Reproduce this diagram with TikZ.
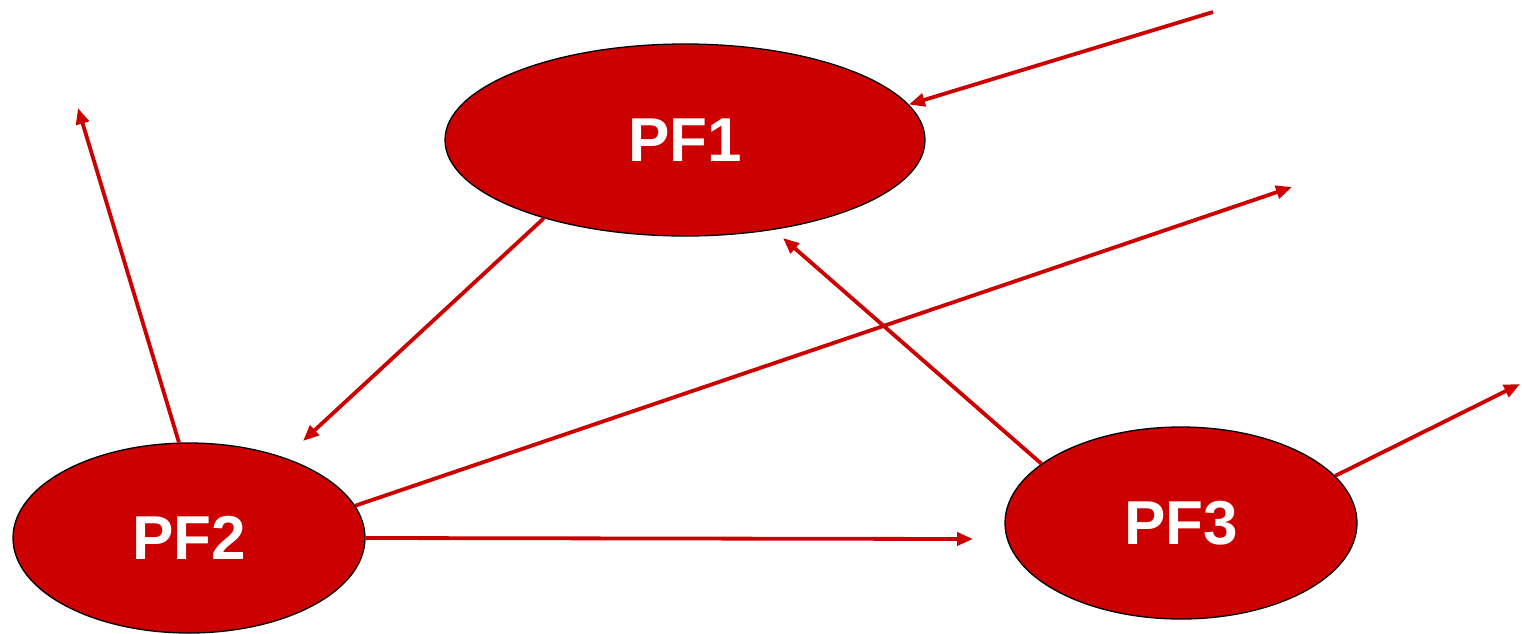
\documentclass[tikz,border=0pt]{standalone}
\usepackage{fontspec}
\setmainfont{Liberation Sans}
\usetikzlibrary{arrows.meta,shapes.geometric}
\definecolor{pfred}{HTML}{CC0000}
\tikzset{
  pf/.style={ellipse, draw=black, line width=1.3pt, fill=pfred, text=white, inner sep=0pt,
    font=\bfseries\fontsize{62}{62}\selectfont},
  conn/.style={draw=pfred, line width=3.8pt, -{Triangle[length=16pt,width=13pt]}}
}
\begin{document}
\begin{tikzpicture}[x=1pt,y=-1pt]
\useasboundingbox (0,0) rectangle (1522,633);
\node[pf, minimum width=480pt, minimum height=192pt] (PF1) at (685,140) {PF1};
\node[pf, minimum width=352pt, minimum height=190pt] (PF2) at (189,538) {PF2};
\node[pf, minimum width=352pt, minimum height=192pt] (PF3) at (1181,523) {PF3};
\coordinate (s1) at (1213,12);
\coordinate (e2) at (78,108);
\coordinate (e3) at (303,441);
\coordinate (e4) at (1292,187);
\coordinate (e5) at (783,238);
\coordinate (e6) at (973,539);
\coordinate (e7) at (1520,384);
\draw[conn] (s1) -- (PF1.9);
\draw[conn] (PF2.96) -- (e2);
\draw[conn] (PF1.209.5) -- (e3);
\draw[conn] (PF2.11.3) -- (e4);
\draw[conn] (PF3.157) -- (e5);
\draw[conn] (PF2.east) -- (e6);
\draw[conn] (PF3.17.2) -- (e7);
\end{tikzpicture}
\end{document}
